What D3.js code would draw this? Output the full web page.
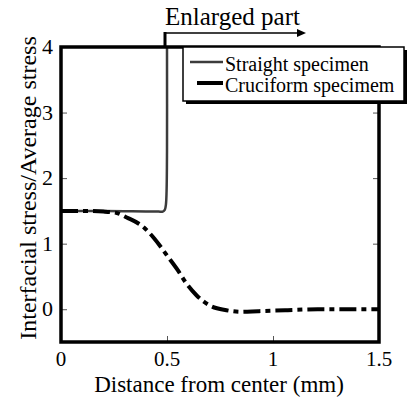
<!DOCTYPE html>
<html>
<head>
<meta charset="utf-8">
<script src="https://cdn.jsdelivr.net/npm/d3@7/dist/d3.min.js"></script>
<style>
  body { margin: 0; background: #fff; }
</style>
</head>
<body>
<svg id="chart" width="408" height="398"></svg>
<script>
// values
var straightX = [0, 0.1, 0.2, 0.3, 0.4, 0.46, 0.48, 0.49, 0.495, 0.498, 0.5, 0.5];
var straightY = [1.5, 1.5, 1.5, 1.495, 1.49, 1.49, 1.49, 1.52, 1.6, 1.8, 2.4, 4];
var cruciformX = [0, 0.1, 0.2, 0.26, 0.31, 0.39, 0.44, 0.5, 0.55, 0.59, 0.64, 0.7, 0.78, 0.85, 0.93, 1.07, 1.21, 1.35, 1.5];
var cruciformY = [1.5, 1.5, 1.49, 1.47, 1.4, 1.25, 1.08, 0.82, 0.6, 0.4, 0.21, 0.06, -0.015, -0.04, -0.03, -0.015, 0, 0, 0];
var xTicks = [0, 0.5, 1, 1.5];
var xTickLabels = ["0", "0.5", "1", "1.5"];
var yTicks = [0, 1, 2, 3, 4];
var legendLabels = ["Straight specimen", "Cruciform specimem"];

var svg = d3.select("#chart");
var serif = "Liberation Serif";
var x = d3.scaleLinear().domain([0, 1.5]).range([61, 379]);
var y = d3.scaleLinear().domain([-0.5, 4]).range([342, 47]);

var line = d3.line()
    .x(function (d) { return x(d[0]); })
    .y(function (d) { return y(d[1]); })
    .curve(d3.curveMonotoneX);
var lineStraight = d3.line()
    .x(function (d) { return x(d[0]); })
    .y(function (d) { return y(d[1]); })
    .curve(d3.curveCatmullRom);

// inward ticks on all four sides
var tickCol = "#555";
var xAxisB = d3.axisBottom(x).tickValues(xTicks).tickSize(-6).tickFormat("");
var xAxisT = d3.axisTop(x).tickValues(xTicks).tickSize(-6).tickFormat("");
var yAxisL = d3.axisLeft(y).tickValues(yTicks).tickSize(-6).tickFormat("");
var yAxisR = d3.axisRight(y).tickValues(yTicks).tickSize(-6).tickFormat("");
[[xAxisB, "translate(0,342)"], [xAxisT, "translate(0,47)"], [yAxisL, "translate(61,0)"], [yAxisR, "translate(379,0)"]]
  .forEach(function (a) {
    var g = svg.append("g").attr("transform", a[1]).call(a[0]);
    g.select(".domain").remove();
    g.selectAll("line").attr("stroke", tickCol).attr("stroke-width", 1);
  });

// tick labels
svg.append("g").selectAll("text").data(xTicks).enter().append("text")
    .attr("x", function (d) { return x(d); })
    .attr("y", 366)
    .attr("text-anchor", "middle")
    .attr("font-family", serif)
    .attr("font-size", 21)
    .text(function (d, i) { return xTickLabels[i]; });
svg.append("g").selectAll("text").data(yTicks).enter().append("text")
    .attr("x", 53)
    .attr("y", function (d) { return y(d) + 7; })
    .attr("text-anchor", "end")
    .attr("font-family", serif)
    .attr("font-size", 22)
    .text(function (d) { return d; });

// data lines
var clip = svg.append("clipPath").attr("id", "clip").append("rect")
    .attr("x", 40).attr("y", 47).attr("width", 339).attr("height", 295);
svg.append("path")
    .datum(d3.zip(straightX, straightY))
    .attr("clip-path", "url(#clip)")
    .attr("fill", "none")
    .attr("stroke", "#3c3c3c")
    .attr("stroke-width", 2.5)
    .attr("d", lineStraight);
svg.append("path")
    .datum(d3.zip(cruciformX, cruciformY))
    .attr("fill", "none")
    .attr("stroke", "#000")
    .attr("stroke-width", 4)
    .attr("stroke-dasharray", "17,5,5,5")
    .attr("d", line);

// frame
svg.append("rect")
    .attr("x", 61).attr("y", 47).attr("width", 318).attr("height", 295)
    .attr("fill", "none").attr("stroke", "#000").attr("stroke-width", 3.5);

// legend with shadow
svg.append("rect").attr("x", 186).attr("y", 50).attr("width", 221).attr("height", 54).attr("fill", "#000");
svg.append("rect").attr("x", 183).attr("y", 47).attr("width", 221).attr("height", 54)
    .attr("fill", "#fff").attr("stroke", "#000").attr("stroke-width", 1.5);
var legendCol = ["#3c3c3c", "#000"];
var legendLeft = [190, 197];
legendLabels.forEach(function (lab, i) {
  var yy = 62 + i * 21;
  svg.append("line").attr("x1", legendLeft[i]).attr("x2", 223).attr("y1", yy).attr("y2", yy)
      .attr("stroke", legendCol[i]).attr("stroke-width", i ? 4 : 2.5);
  svg.append("text").attr("x", 225).attr("y", yy + 9)
      .attr("font-family", serif).attr("font-size", 20).text(lab);
});

// "Enlarged part" annotation
var bx = x(0.5) - 2;
svg.append("line").attr("x1", bx).attr("x2", bx).attr("y1", 32).attr("y2", 47)
    .attr("stroke", "#000").attr("stroke-width", 3);
svg.append("line").attr("x1", bx).attr("x2", 300).attr("y1", 33).attr("y2", 33)
    .attr("stroke", "#000").attr("stroke-width", 1.5);
svg.append("path").attr("d", "M297,29L306,33L297,37Z").attr("fill", "#000");
svg.append("text").attr("x", 165).attr("y", 25)
    .attr("font-family", serif).attr("font-size", 25).text("Enlarged part");

// axis titles
svg.append("text").attr("x", 219).attr("y", 392).attr("text-anchor", "middle")
    .attr("font-family", serif).attr("font-size", 23).text("Distance from center (mm)");
svg.append("text").attr("transform", "translate(36,188) rotate(-90)").attr("text-anchor", "middle")
    .attr("font-family", serif).attr("font-size", 24).text("Interfacial stress/Average stress");
</script>
</body>
</html>
